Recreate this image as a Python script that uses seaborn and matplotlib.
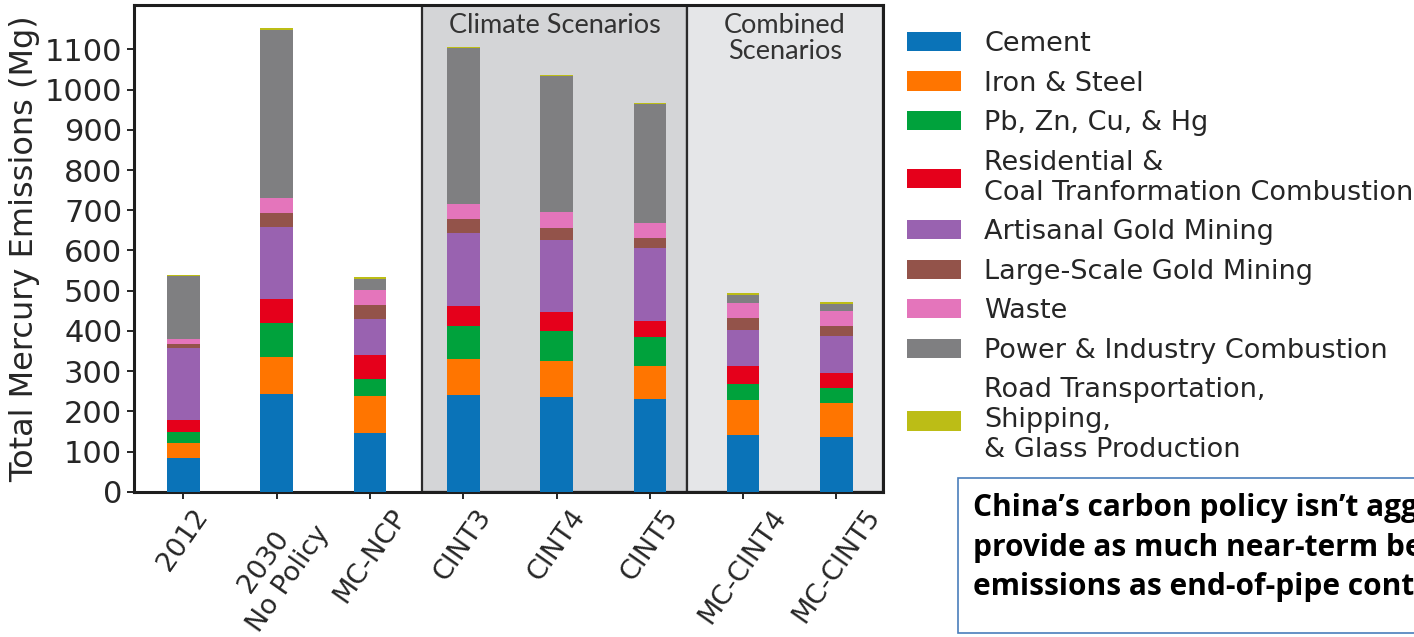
import matplotlib
matplotlib.use("Agg")
import matplotlib.pyplot as plt
import matplotlib.patches as mpatches
import numpy as np
import pandas as pd
import seaborn as sns

# Scenario names (x categories)
scenarios = ["2012", "2030\nNo Policy", "MC-NCP", "CINT3", "CINT4", "CINT5",
             "MC-CINT4", "MC-CINT5"]

# Emission sectors, bottom to top of each stack
sectors = ["Cement", "Iron & Steel", "Pb, Zn, Cu, & Hg",
           "Residential &\nCoal Tranformation Combustion",
           "Artisanal Gold Mining", "Large-Scale Gold Mining", "Waste",
           "Power & Industry Combustion",
           "Road Transportation,\nShipping,\n& Glass Production"]

# Mercury emissions per sector (Mg)
cement = [85, 243, 145, 240, 236, 230, 141, 136]
iron_steel = [35, 93, 93, 91, 89, 83, 87, 84]
nonferrous = [28, 83, 42, 81, 75, 73, 40, 37]
residential = [30, 60, 59, 51, 46, 39, 45, 39]
artisanal_gold = [179, 179, 90, 181, 180, 180, 89, 91]
large_gold = [10, 35, 35, 33, 29, 26, 29, 25]
waste = [14, 38, 38, 38, 40, 38, 39, 38]
power_industry = [156, 418, 26, 389, 339, 294, 19, 17]
transport_glass = [3, 3, 5, 3, 3, 3, 4, 4]

colors = ["#0a73b8", "#ff7500", "#00a23c", "#e5001b", "#9962b0",
          "#93534a", "#e475bb", "#7f7f81", "#bcbd16"]

layers = [cement, iron_steel, nonferrous, residential, artisanal_gold,
          large_gold, waste, power_industry, transport_glass]

sns.set_theme(style="ticks")
plt.rcParams["font.family"] = ["DejaVu Sans"]
text_color = "#262626"

fig = plt.figure(figsize=(14.14, 6.37), dpi=100)
ax = fig.add_axes([0.0948, 0.228, 0.5297, 0.764])

# Scenario group panels
ax.axvspan(2.555, 5.4, facecolor="#d4d5d7", edgecolor="#2b2b2b",
           linewidth=1.6, zorder=0.5)
ax.axvspan(5.4, 7.5, facecolor="#e5e6e8", edgecolor="#2b2b2b",
           linewidth=1.6, zorder=0.5)

# Stacked bars: draw cumulative totals from the top layer downwards
df = pd.DataFrame({"scenario": scenarios})
cum = np.cumsum(np.array(layers, dtype=float), axis=0)
for i in range(len(layers) - 1, -1, -1):
    df["total"] = cum[i]
    sns.barplot(data=df, x="scenario", y="total", order=scenarios,
                color=colors[i], saturation=1, width=0.35, errorbar=None,
                linewidth=0, ax=ax, zorder=3)

ax.set_xlim(-0.53, 7.5)
ax.set_ylim(0, 1210)
ax.set_yticks(np.arange(0, 1101, 100))
ax.set_xlabel("")
ax.set_ylabel("Total Mercury Emissions (Mg)", fontsize=23, color=text_color,
              labelpad=3)
ax.tick_params(axis="both", colors=text_color, length=5, width=1.4,
               direction="out")
ax.tick_params(axis="y", labelsize=22)
ax.tick_params(axis="x", labelsize=19.5, rotation=55, pad=4)
for lab in ax.get_xticklabels():
    lab.set_multialignment("center")
for side in ["left", "right", "top", "bottom"]:
    ax.spines[side].set_visible(True)
    ax.spines[side].set_color("#1e1e1e")
    ax.spines[side].set_linewidth(2.2)

ax.text(3.98, 1190, "Climate Scenarios", ha="center", va="top",
        fontsize=19.5, family="Lato", color="#333333", zorder=4)
ax.text(6.45, 1190, "Combined\nScenarios", ha="center", va="top",
        fontsize=19.5, family="Lato", color="#333333", linespacing=1.05,
        zorder=4)

handles = [mpatches.Patch(facecolor=c, edgecolor="none", label=s)
           for c, s in zip(colors, sectors)]
leg = fig.legend(handles=handles, loc="upper left",
                 bbox_to_anchor=(907 / 1414, 1 - 31 / 637), frameon=False,
                 fontsize=19.5, handlelength=2.0, handleheight=0.72,
                 handletextpad=0.85, labelspacing=0.5, borderpad=0,
                 borderaxespad=0)
for t in leg.get_texts():
    t.set_color(text_color)

# Callout box
box = mpatches.Rectangle((958 / 1414, 1 - 633 / 637), 0.5, 155 / 637,
                         transform=fig.transFigure, facecolor="white",
                         edgecolor="#4a7ebb", linewidth=1.2, zorder=5)
fig.patches.append(box)
fig.text(973 / 1414, 1 - 493 / 637,
         "China\u2019s carbon policy isn\u2019t aggressive enough to\n"
         "provide as much near-term benefit to mercury\n"
         "emissions as end-of-pipe controls",
         ha="left", va="top", fontsize=21.5, family="Open Sans", weight="bold",
         color="black", linespacing=1.42, zorder=6)

fig.savefig("out.png", dpi=100)
